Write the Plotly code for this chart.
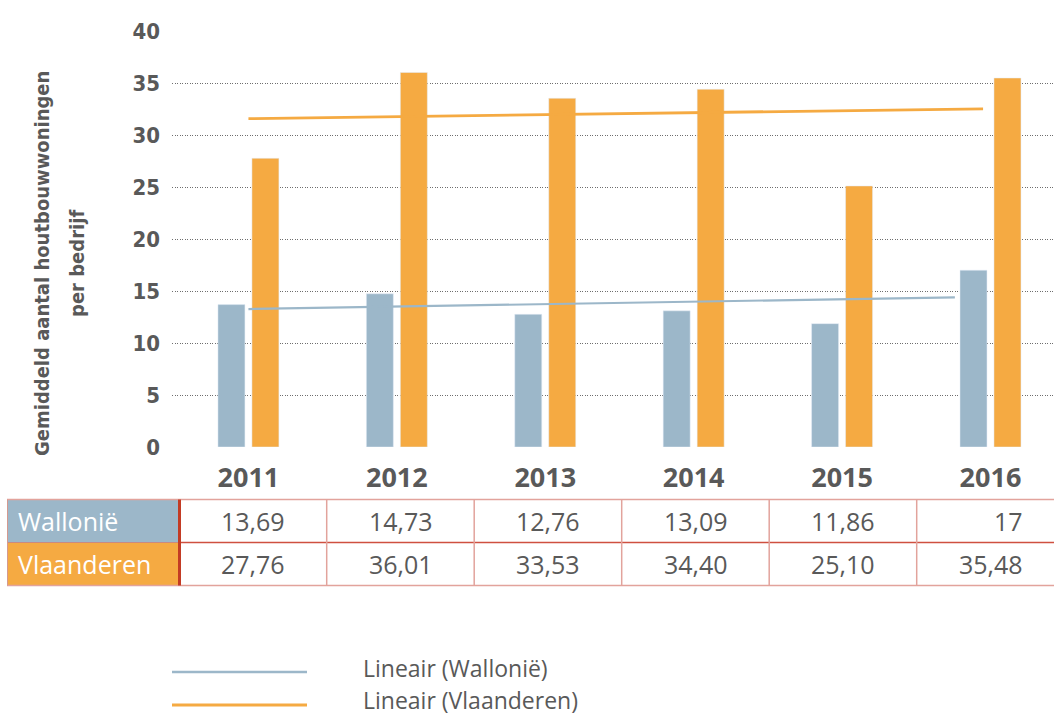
import numpy as np
import plotly.graph_objects as go

# data
years = ["2011", "2012", "2013", "2014", "2015", "2016"]
wallonie = [13.69, 14.73, 12.76, 13.09, 11.86, 17]
vlaanderen = [27.76, 36.01, 33.53, 34.40, 25.10, 35.48]
wallonie_txt = ["13,69", "14,73", "12,76", "13,09", "11,86", "17"]
vlaanderen_txt = ["27,76", "36,01", "33,53", "34,40", "25,10", "35,48"]
series = ["Wallonië", "Vlaanderen"]
trend_names = ["Lineair (Wallonië)", "Lineair (Vlaanderen)"]
y_ticks = [0, 5, 10, 15, 20, 25, 30, 35, 40]
y_title = ["Gemiddeld aantal houtbouwwoningen", "per bedrijf"]

BLUE = "#9cb7c9"
ORANGE = "#f5aa42"
GREY = "#595959"
NARROW = "Liberation Sans Narrow, DejaVu Sans Condensed, sans-serif"
SANS = "Open Sans, Noto Sans, sans-serif"

W, H = 1054, 718
L, T, B = 172, 31, 271


def px(x):
    return (x - L) / (W - L)


def py(y):
    return (H - B - y) / (H - T - B)


idx = np.arange(len(years))
fig = go.Figure()

fig.add_trace(go.Bar(x=idx, y=wallonie, name=series[0], marker_color=BLUE))
fig.add_trace(go.Bar(x=idx, y=vlaanderen, name=series[1], marker_color=ORANGE))

# linear trend lines (drawn on top)
trim = [0.24, 0.05]
widths = [2.2, 2.8]
for vals, nm, col, tr, lw in zip([wallonie, vlaanderen], trend_names, [BLUE, ORANGE], trim, widths):
    k, b = np.polyfit(idx, vals, 1)
    xs = np.array([0, idx[-1] - tr])
    fig.add_trace(go.Scatter(x=xs, y=b + k * xs, mode="lines", name=nm,
                             line=dict(color=col, width=lw)))

shapes = []
annotations = []

# table under the chart
top, mid, bot = 499.5, 542.5, 585.5
light = "#e2a39c"
dark = "#cf5040"
shapes.append(dict(type="rect", xref="paper", yref="paper", x0=px(8), x1=px(178),
                   y0=py(mid), y1=py(top), fillcolor=BLUE, line=dict(width=0), layer="below"))
shapes.append(dict(type="rect", xref="paper", yref="paper", x0=px(8), x1=px(178),
                   y0=py(bot), y1=py(mid), fillcolor=ORANGE, line=dict(width=0), layer="below"))
for yy, c in [(top, light), (bot, light)]:
    shapes.append(dict(type="line", xref="paper", yref="paper", x0=px(7), x1=px(W),
                       y0=py(yy), y1=py(yy), line=dict(color=c, width=1.5)))
shapes.append(dict(type="line", xref="paper", yref="paper", x0=px(178), x1=px(W),
                   y0=py(mid), y1=py(mid), line=dict(color=dark, width=1.5)))
shapes.append(dict(type="line", xref="paper", yref="paper", x0=px(8), x1=px(178),
                   y0=py(mid), y1=py(mid), line=dict(color="#c98a80", width=1)))
shapes.append(dict(type="line", xref="paper", yref="paper", x0=px(7.5), x1=px(7.5),
                   y0=py(bot), y1=py(top), line=dict(color="#d49a90", width=1)))
col_w = 147.5
col_edges = [326.7 + col_w * i for i in range(len(years))]
for xe in col_edges[:-1]:
    shapes.append(dict(type="line", xref="paper", yref="paper", x0=px(xe), x1=px(xe),
                       y0=py(bot), y1=py(top), line=dict(color=light, width=1.5)))
shapes.append(dict(type="line", xref="paper", yref="paper", x0=px(179.5), x1=px(179.5),
                   y0=py(bot), y1=py(top), line=dict(color="#c33b24", width=3)))

for name, yc in zip(series, [(top + mid) / 2, (mid + bot) / 2]):
    annotations.append(dict(text=name, xref="paper", yref="paper", x=px(16), y=py(yc),
                            xanchor="left", yanchor="middle", showarrow=False,
                            font=dict(family=SANS, size=25, color="white")))
for txts, yc in zip([wallonie_txt, vlaanderen_txt], [(top + mid) / 2, (mid + bot) / 2]):
    for t, xe in zip(txts, col_edges):
        annotations.append(dict(text=t, xref="paper", yref="paper", x=px(xe - 39.5), y=py(yc),
                                xanchor="right", yanchor="middle", showarrow=False,
                                font=dict(family=SANS, size=25, color=GREY)))

# legend for the trend lines
for nm, col, yy, ty, lw in zip(trend_names, [BLUE, ORANGE], [672, 705], [668, 700], widths):
    shapes.append(dict(type="line", xref="paper", yref="paper", x0=px(172), x1=px(307),
                       y0=py(yy), y1=py(yy), line=dict(color=col, width=lw + 0.4)))
    annotations.append(dict(text=nm, xref="paper", yref="paper", x=px(362), y=py(ty),
                            xanchor="left", yanchor="middle", showarrow=False, borderpad=0,
                            font=dict(family=SANS, size=23, color=GREY)))

# y axis title, two lines
for line, xc in zip(y_title, [42, 77]):
    annotations.append(dict(text=line, xref="paper", yref="paper", x=px(xc), y=py(264),
                            xanchor="center", yanchor="middle", textangle=-90, showarrow=False,
                            font=dict(family=NARROW, size=20, color=GREY, weight="bold")))

fig.update_layout(
    width=W, height=H,
    margin=dict(l=L, r=0, t=T, b=B, pad=0),
    plot_bgcolor="white", paper_bgcolor="white",
    barmode="group", bargap=0.542, bargroupgap=0.206,
    showlegend=False,
    shapes=shapes, annotations=annotations,
    xaxis=dict(range=[-0.515, 5.428], tickvals=idx, ticktext=years, showgrid=False,
               zeroline=False, showline=False, ticks="", ticklabelstandoff=12,
               tickfont=dict(family=SANS, size=27, color=GREY, weight="bold")),
    yaxis=dict(range=[0, 40], tickvals=y_ticks, showgrid=True, gridcolor="#6e6e6e",
               griddash="1px,1.5px", gridwidth=1, zeroline=False, showline=False, ticks="",
               ticklabelstandoff=11,
               tickfont=dict(family=NARROW, size=22, color=GREY, weight="bold")),
)

fig.write_html("out.html", config={"displayModeBar": False},
               post_script="document.body.style.margin='0';")
